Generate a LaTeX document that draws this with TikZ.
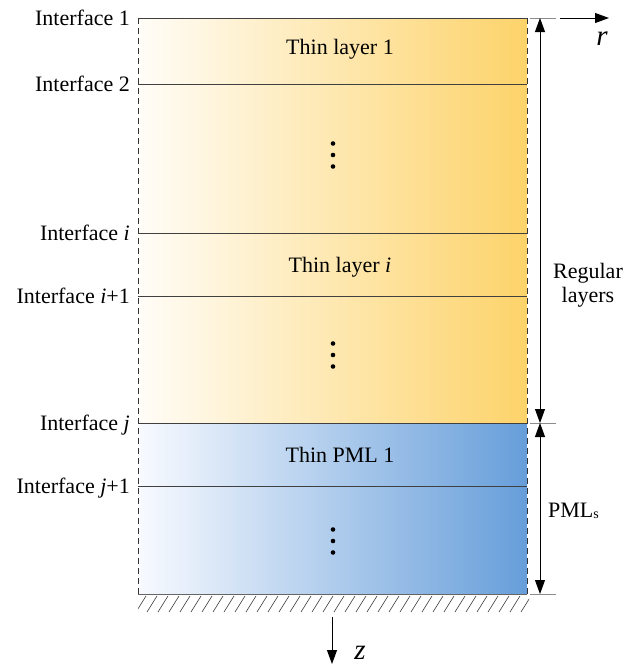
\documentclass[tikz,border=0pt]{standalone}
\usepackage{fontspec}
\setmainfont{Liberation Serif}
\usetikzlibrary{arrows.meta}
\definecolor{orlight}{RGB}{255,253,248}
\definecolor{ordark}{RGB}{253,211,106}
\definecolor{bllight}{RGB}{248,250,255}
\definecolor{bldark}{RGB}{102,158,218}
\begin{document}
\begin{tikzpicture}[x=1pt,y=-1pt,
  lbl/.style={font=\fontsize{22}{24}\selectfont, inner sep=0pt},
  axlbl/.style={font=\fontsize{29}{30}\selectfont\itshape, inner sep=0pt},
  iface/.style={draw=black!75, line width=0.8pt},
  bord/.style={draw=black!80, line width=0.7pt, dash pattern=on 6pt off 4pt},
  tickln/.style={draw=black!45, line width=0.8pt},
  hatchln/.style={draw=black!75, line width=0.6pt},
  dimarr/.style={draw=black, line width=0.8pt, {Triangle[width=10pt,length=14pt]}-{Triangle[width=10pt,length=14pt]}},
  axarr/.style={draw=black, line width=1pt, -{Triangle[width=10pt,length=14pt]}},
  dotn/.style={circle, fill=black, inner sep=0pt, minimum size=4.6pt}]
\useasboundingbox (0,0) rectangle (625,665);
\def\Lx{138}\def\Rx{527}
% shaded regions
\shade[left color=orlight, right color=ordark] (\Lx,18) rectangle (\Rx,423);
\shade[left color=bllight, right color=bldark] (\Lx,423) rectangle (\Rx,594);
% interface coordinates
\foreach \n/\y in {a/18,b/84,c/233,d/296,e/423,f/486,g/594}{
  \coordinate (\n L) at (\Lx,\y);
  \coordinate (\n R) at (\Rx,\y);
}
\foreach \n in {a,b,c,d,e,f}{ \draw[iface] (\n L) -- (\n R); }
\draw[draw=black!60, line width=0.8pt] (gL) -- (gR);
% dashed sides
\draw[bord] (aL) -- (gL);
\draw[bord] (aR) -- (gR);
% hatching
\begin{scope}
\clip (\Lx,595) rectangle (\Rx+2,612);
\foreach \x in {136,147,...,540}{ \draw[hatchln] (\x,612) -- (\x+10,596); }
\end{scope}
% interface labels
\node[lbl, anchor=base east] (l1) at (130,25) {Interface 1};
\node[lbl, anchor=base east] (l2) at (130,91) {Interface 2};
\node[lbl, anchor=base east] (l3) at (130,240) {Interface \textit{i}};
\node[lbl, anchor=base east] (l4) at (130,303) {Interface \textit{i}+1};
\node[lbl, anchor=base east] (l5) at (130,430) {Interface \textit{j}};
\node[lbl, anchor=base east] (l6) at (130,493) {Interface \textit{j}+1};
% layer texts
\node[lbl, anchor=base] (t1) at (340,54) {Thin layer 1};
\node[lbl, anchor=base] (t2) at (340,272) {Thin layer \textit{i}};
\node[lbl, anchor=base] (t3) at (340,462) {Thin PML 1};
% dots
\foreach \k/\c in {1/155,2/355,3/541}{
  \node[dotn] (d\k a) at (333,\c-11.5) {};
  \node[dotn] (d\k b) at (333,\c) {};
  \node[dotn] (d\k c) at (333,\c+11.5) {};
}
% right ticks and dimension arrows
\coordinate (ta0) at (530,18);  \coordinate (ta1) at (556,18);
\coordinate (te0) at (530,423); \coordinate (te1) at (556,423);
\coordinate (tg0) at (530,594); \coordinate (tg1) at (556,594);
\draw[tickln] (ta0) -- (ta1);
\draw[tickln] (te0) -- (te1);
\draw[tickln] (tg0) -- (tg1);
\coordinate (da) at (540,18); \coordinate (de) at (540,423); \coordinate (dg) at (540,594);
\draw[dimarr] (da) -- (de);
\draw[dimarr] (de) -- (dg);
\node[lbl, align=center] (reg) at (588,285) {Regular\\layers};
\node[lbl, anchor=base west] (pml) at (548,517) {PML\raisebox{-1pt}{\fontsize{14}{14}\selectfont s}};
% axes
\coordinate (r0) at (560,18); \coordinate (r1) at (609,18);
\draw[axarr] (r0) -- (r1);
\node[axlbl, anchor=base] (rl) at (602,45) {r};
\coordinate (z0) at (332,617); \coordinate (z1) at (332,664);
\draw[axarr] (z0) -- (z1);
\node[axlbl, anchor=base] (zl) at (360,659) {z};
\end{tikzpicture}
\end{document}
